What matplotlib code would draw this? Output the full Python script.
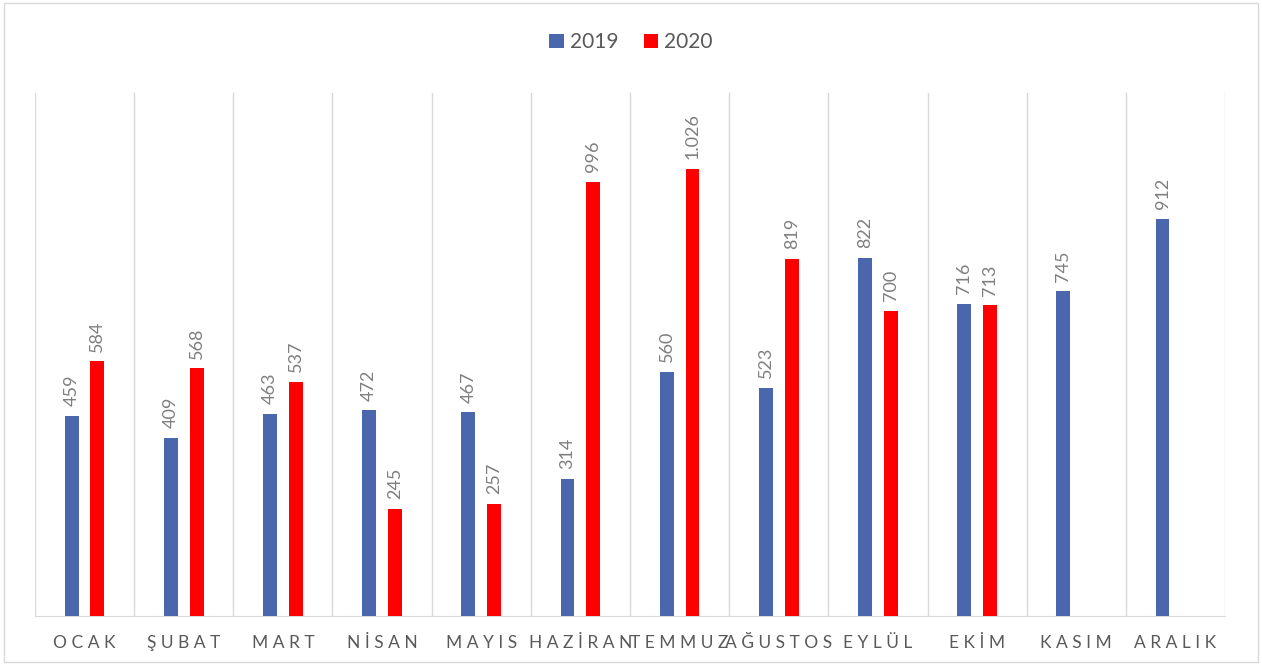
import matplotlib
matplotlib.use("Agg")
import matplotlib.pyplot as plt
import numpy as np

months = ["OCAK", "ŞUBAT", "MART", "NİSAN", "MAYIS", "HAZİRAN",
          "TEMMUZ", "AĞUSTOS", "EYLÜL", "EKİM", "KASIM", "ARALIK"]
v2019 = [459, 409, 463, 472, 467, 314, 560, 523, 822, 716, 745, 912]
v2020 = [584, 568, 537, 245, 257, 996, 1026, 819, 700, 713, None, None]

plt.rcParams['font.family'] = ['Lato', 'DejaVu Sans']

def fmt(v):
    # thousands with dot, Turkish style
    return "{:,}".format(v).replace(",", ".")

fig = plt.figure(figsize=(12.62, 6.70), dpi=100)
ax = fig.add_axes([0.0277, 0.0806, 0.9430, 0.7806])

# outer border like the excel chart area
fig.patches.append(plt.Rectangle((0.003, 0.012), 0.994, 0.984, transform=fig.transFigure,
                                 fill=False, edgecolor="#d9d9d9", linewidth=1))

x = np.arange(len(months))
w = 0.14
off = 0.13
blue = "#4a66ac"
red = "#ff0000"

b1 = ax.bar(x - off, v2019, w, color=blue, label="2019", zorder=3)
x20 = [xi + off for xi, v in zip(x, v2020) if v is not None]
y20 = [v for v in v2020 if v is not None]
b2 = ax.bar(x20, y20, w, color=red, label="2020", zorder=3)

for xi, v in zip(x - off, v2019):
    ax.annotate(fmt(v), (xi, v), xytext=(0, 7), textcoords="offset points",
                rotation=90, ha="center", va="bottom", fontsize=13, color="#7f7f7f")
for xi, v in zip(x20, y20):
    ax.annotate(fmt(v), (xi, v), xytext=(0, 7), textcoords="offset points",
                rotation=90, ha="center", va="bottom", fontsize=13, color="#7f7f7f")

ax.set_xlim(-0.5, len(months) - 0.5)
ax.set_ylim(0, 1200)
ax.set_yticks([])
ax.set_xticks(x)
ax.set_xticklabels([" ".join(m) for m in months], fontsize=12.5, color="#595959")
ax.tick_params(axis="x", length=0, pad=14)

# vertical category separators
for b in np.arange(-0.5, len(months), 1.0):
    ax.axvline(b, color="#d9d9d9", linewidth=1, zorder=1)

for s in ["top", "left", "right"]:
    ax.spines[s].set_visible(False)
ax.spines["bottom"].set_color("#d9d9d9")

fig.legend(handles=[b1, b2], loc="center", bbox_to_anchor=(0.5, 0.937), ncol=2,
           frameon=False, fontsize=15, labelcolor="#595959", handlelength=0.7,
           handleheight=0.7, handletextpad=0.3, columnspacing=1.2)

fig.savefig("out.png", dpi=100)
